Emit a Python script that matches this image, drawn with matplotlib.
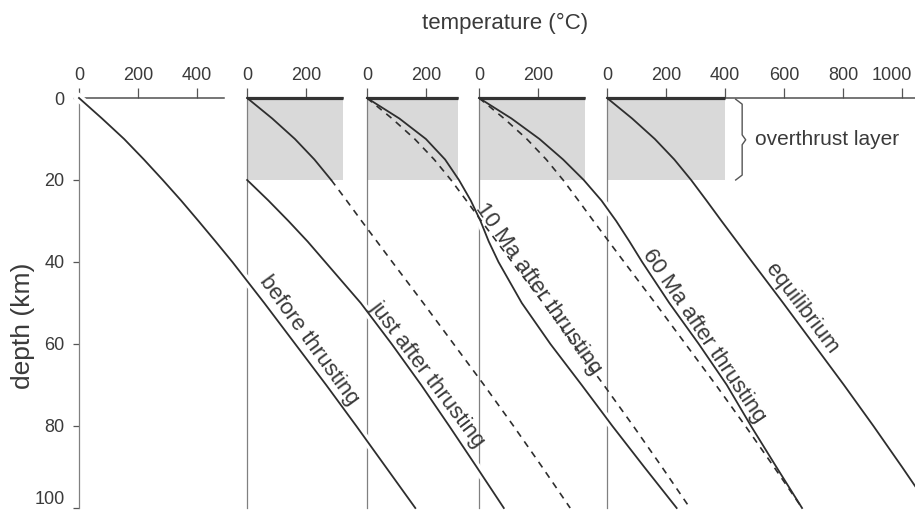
import numpy as np
import matplotlib
matplotlib.use("Agg")
import matplotlib.pyplot as plt
import matplotlib.patheffects as pe
from matplotlib.transforms import ScaledTranslation

# ---- data ----
depth = np.array([0, 5, 10, 15, 20, 25, 30, 35, 40, 50, 60, 70, 80, 90, 100])  # km

before_T = np.array([0, 78, 153, 220, 284, 346, 405, 463, 520, 628, 733, 838, 940, 1040, 1140])
equil_T = np.array([0, 85, 162, 228, 285, 337, 388, 440, 492, 597, 700, 803, 903, 1000, 1095])
ma10_T = np.array([0, 110, 200, 265, 312, 352, 385, 413, 446, 525, 622, 728, 832, 940, 1050])
ma60_T = np.array([0, 110, 205, 285, 355, 415, 465, 510, 553, 645, 745, 840, 922, 1008, 1095])

# lower plate just after thrusting (starts cold at the thrust)
just_depth = np.array([20, 25, 30, 35, 40, 50, 60, 70, 80, 90, 100])
just_T = np.array([0, 72, 140, 205, 265, 385, 490, 590, 685, 778, 870])

layer_depth = 20  # overthrust layer thickness, km

panel_x0 = [0, 570, 976, 1356, 1790]        # panel origins on a common temperature scale
panel_width = [490, 325, 308, 358, 1045]
panel_ticks = [[0, 200, 400], [0, 200], [0, 200], [0, 200], [0, 200, 400, 600, 800, 1000]]
shade_T = [0, 325, 308, 358, 400]
depth_ticks = [0, 20, 40, 60, 80, 100]

# ---- layout ----
W, H = 915, 515
PX_PER_C = 0.295
PX_PER_KM = 4.1
X0_PX, Y0_PX = 79, 98

plt.rcParams['font.family'] = ['Liberation Sans', 'DejaVu Sans']

ink = '#2e2e2e'
txt = '#3a3a3a'

fig = plt.figure(figsize=(W / 100, H / 100), dpi=100)

# panels: each one has its own top temperature axis and a vertical line
for i in range(5):
    left = X0_PX + panel_x0[i] * PX_PER_C
    width = panel_width[i] * PX_PER_C
    pax = fig.add_axes([left / W, 1 - (Y0_PX + 100 * PX_PER_KM) / H,
                        width / W, 100 * PX_PER_KM / H], zorder=1)
    pax.set_xlim(0, panel_width[i])
    pax.set_ylim(100, 0)
    pax.patch.set_visible(False)
    pax.spines['bottom'].set_visible(False)
    pax.spines['right'].set_visible(False)
    pax.spines['left'].set_color('#808080')
    pax.spines['left'].set_linewidth(0.9)
    pax.spines['top'].set_color('#505050')
    pax.spines['top'].set_linewidth(1.1)
    pax.xaxis.tick_top()
    pax.set_xticks(panel_ticks[i])
    pax.tick_params(axis='x', direction='out', length=7, width=0.9, pad=3,
                    labelsize=13, colors='#555555', labelcolor=txt)
    if i == 0:
        pax.set_yticks(depth_ticks)
        pax.tick_params(axis='y', direction='out', length=4.5, width=0.9, pad=6,
                        labelsize=13, colors='#555555', labelcolor=txt)
        pax.get_yticklabels()[-1].set_va('bottom')
    else:
        pax.set_yticks([])
        pax.fill_betweenx([0, layer_depth], 0, shade_T[i], color='#d9d9d9', lw=0, zorder=0)
        pax.hlines(0, 0, shade_T[i], color='#333333', lw=2.3, clip_on=False, zorder=3)

    if i == 4:
        # keep the last temperature label inside the figure
        lab = pax.get_xticklabels()[-1]
        lab.set_ha('right')
        lab.set_transform(lab.get_transform() + ScaledTranslation(0.10, 0, fig.dpi_scale_trans))
        # brace marking the overthrust layer
        bx = 458
        pax.plot([bx - 22, bx, bx, bx + 12, bx, bx, bx - 22],
                 [0.3, 1.5, 9.0, 10.2, 11.4, 18.8, 20.0],
                 color='#555555', lw=1.0, clip_on=False)
        pax.text(bx + 45, 10.2, 'overthrust layer', ha='left', va='center',
                 fontsize=15, color=txt)

# overlay for the geotherms, in common temperature / depth coordinates
ax = fig.add_axes([0, 0, 1, 1], zorder=5)
ax.set_xlim(-X0_PX / PX_PER_C, (W - X0_PX) / PX_PER_C)
ax.set_ylim((H - Y0_PX) / PX_PER_KM, -Y0_PX / PX_PER_KM)
ax.axis('off')
ax.patch.set_visible(False)

halo = [pe.Stroke(linewidth=6, foreground='white')]
deep = depth >= 25


def solid(x, d, halo_mask=None):
    if halo_mask is not None:
        ax.plot(x[halo_mask], d[halo_mask], color='white', lw=1, path_effects=halo, zorder=1)
    ax.plot(x, d, color=ink, lw=1.3, zorder=2)


def dashed(x, d):
    ax.plot(x, d, color=ink, lw=1.2, ls=(0, (4, 3.5)), zorder=3)


top = depth <= layer_depth
below = depth >= layer_depth

# before thrusting
solid(panel_x0[0] + before_T, depth, depth >= 0)
# just after thrusting
solid(panel_x0[1] + equil_T[top], depth[top])
dashed(panel_x0[1] + equil_T[below], depth[below])
solid(panel_x0[1] + just_T, just_depth, just_depth >= 25)
# 10 Ma after
dashed(panel_x0[2] + equil_T, depth)
solid(panel_x0[2] + ma10_T, depth, deep)
# 60 Ma after
dashed(panel_x0[3] + equil_T, depth)
solid(panel_x0[3] + ma60_T, depth, deep)
# equilibrium
solid(panel_x0[4] + equil_T, depth, deep)

# curve labels: (text, panel, curve, curve depths, label depth, x offset pt, rotation)
labels = [
    ('before thrusting', 0, before_T, depth, 59, 12, -54),
    ('just after thrusting', 1, just_T, just_depth, 67.5, 9.5, -53),
    ('10 Ma after thrusting', 2, ma10_T, depth, 46.5, 18, -55),
    ('60 Ma after thrusting', 3, ma60_T, depth, 58, 8, -56),
    ('equilibrium', 4, equil_T, depth, 51.5, 10, -53),
]
for text, p, T, d, dl, off, rot in labels:
    xl = panel_x0[p] + np.interp(dl, d, T)
    ax.annotate(text, xy=(xl, dl), xytext=(off, 0), textcoords='offset points',
                ha='center', va='center', rotation=rot, rotation_mode='anchor',
                fontsize=16, color=txt, zorder=4)

fig.text(505 / W, 1 - 23 / H, 'temperature (°C)', ha='center', va='center',
         fontsize=16, color=txt)
fig.text(23 / W, 1 - 326 / H, 'depth (km)', ha='center', va='center',
         rotation=90, fontsize=19, color=txt)

fig.savefig('out.png', dpi=100)
